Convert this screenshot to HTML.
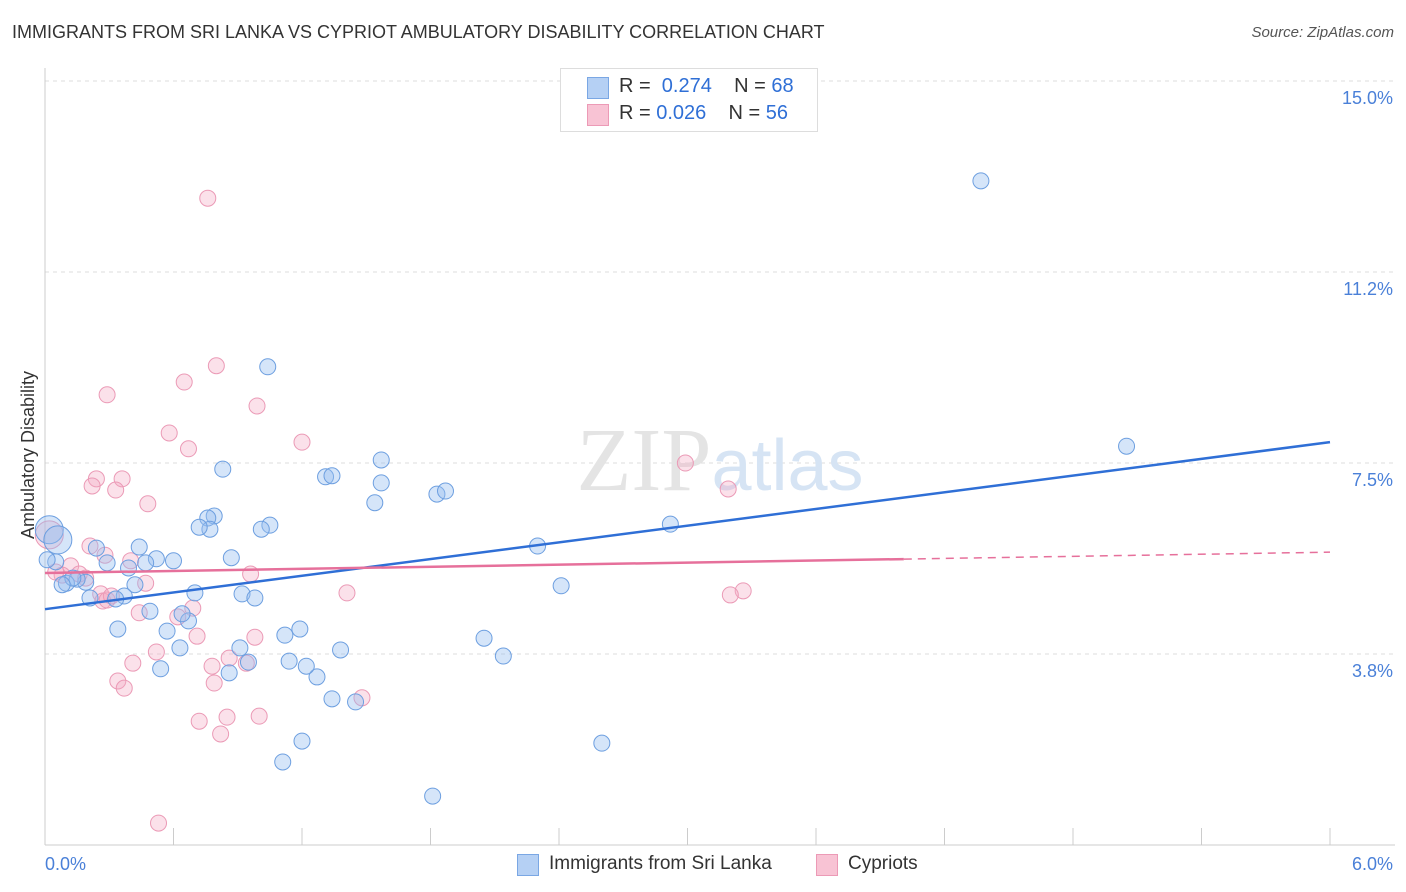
<!DOCTYPE html>
<html><head><meta charset="utf-8"><style>
body{margin:0;background:#fff;font-family:"Liberation Sans",sans-serif}
#wrap{position:relative;width:1406px;height:892px;overflow:hidden}
.t{position:absolute;white-space:nowrap}
</style></head><body>
<div id="wrap">
<div class="t" style="left:12px;top:22px;font-size:18px;color:#333">IMMIGRANTS FROM SRI LANKA VS CYPRIOT AMBULATORY DISABILITY CORRELATION CHART</div>
<div class="t" style="right:12px;top:24px;font-size:15px;color:#555;font-style:italic">Source: ZipAtlas.com</div>
<svg id="svg" width="1406" height="892" style="position:absolute;left:0;top:0"></svg>
</div>
<script>
const yTicks=[3.75,7.5,11.25,15];
const yTickLabels=["3.8%","7.5%","11.2%","15.0%"];
const xTickLabels=["0.0%","6.0%"];
const blueX=[4.37,5.05,1.04,0.83,1.31,1.34,1.57,1.57,1.54,1.83,1.87,2.92,2.30,2.41,2.05,2.14,2.60,1.81,1.20,1.11,1.34,1.45,1.38,1.27,1.22,1.14,1.19,1.12,1.05,1.01,0.95,0.91,0.86,0.87,0.92,0.98,0.79,0.76,0.77,0.72,0.70,0.67,0.64,0.63,0.57,0.54,0.49,0.60,0.52,0.47,0.44,0.39,0.42,0.34,0.37,0.33,0.29,0.24,0.21,0.19,0.15,0.10,0.13,0.08,0.05,0.02,0.06,0.01];
const blueY=[13.04,7.83,9.39,7.38,7.23,7.25,7.56,7.11,6.72,6.89,6.95,6.30,5.87,5.09,4.06,3.71,2.00,0.96,2.04,1.63,2.87,2.81,3.83,3.30,3.51,3.61,4.24,4.12,6.28,6.20,3.59,3.87,3.38,5.64,4.93,4.85,6.46,6.42,6.20,6.24,4.95,4.40,4.54,3.87,4.20,3.46,4.59,5.58,5.62,5.54,5.85,5.44,5.11,4.24,4.89,4.83,5.54,5.83,4.85,5.16,5.22,5.14,5.24,5.11,5.56,6.19,5.99,5.60];
const pinkX=[0.76,0.80,0.65,0.29,0.99,0.58,0.67,1.20,0.24,0.36,0.22,0.33,0.48,2.99,3.19,3.26,3.20,1.41,0.96,0.47,0.40,0.28,0.21,0.12,0.08,0.05,0.02,0.16,0.19,0.26,0.27,0.29,0.31,0.44,0.62,0.69,0.71,0.98,0.52,0.41,0.34,0.37,0.78,0.79,0.86,0.94,1.48,0.72,0.85,1.00,0.82,0.53];
const pinkY=[12.70,9.41,9.09,8.84,8.62,8.09,7.78,7.91,7.19,7.19,7.05,6.97,6.70,7.50,6.99,4.99,4.91,4.95,5.32,5.14,5.58,5.69,5.87,5.48,5.30,5.36,6.09,5.32,5.24,4.93,4.79,4.81,4.89,4.56,4.48,4.65,4.10,4.08,3.79,3.57,3.22,3.08,3.51,3.18,3.67,3.57,2.89,2.43,2.51,2.53,2.18,0.43];
const blueTrend=[4.63,7.91];
const pinkTrend=[5.34,5.75];
const X0=45,X1=1330,YB=845,PY=50.93;
const sx=v=>X0+v*(X1-X0)/6;
const sy=v=>YB-v*PY;
const svg=document.getElementById('svg');
const NS='http://www.w3.org/2000/svg';
function mk(tag,attrs){const e=document.createElementNS(NS,tag);for(const k in attrs)e.setAttribute(k,attrs[k]);svg.appendChild(e);return e;}
yTicks.forEach((v,i)=>{
 const g=mk('line',{x1:45,x2:1395,y1:sy(v),y2:sy(v),stroke:'#ddd','stroke-dasharray':'4,4'});
 
 
 const t=mk('text',{x:1393,y:sy(v)+23,'text-anchor':'end','font-size':18,fill:'#4a80d8'});
 t.textContent=yTickLabels[i];
 
 
});
let ax=mk('line',{x1:45,x2:1395,y1:845,y2:845,stroke:'#ccc'});


let ay=mk('line',{x1:45,x2:45,y1:68,y2:845,stroke:'#ccc'});


for(let i=1;i<=10;i++){const x=sx(i*0.6);const l=mk('line',{x1:x,x2:x,y1:828,y2:845,stroke:'#ccc'});

}
[[0,'start',45],[1,'end',1393]].forEach(([i,a,x])=>{const t=mk('text',{x:x,y:870,'text-anchor':a,'font-size':18,fill:'#4a80d8'});t.textContent=xTickLabels[i];

});
const yl=mk('text',{x:34,y:455,transform:'rotate(-90 34 455)','text-anchor':'middle','font-size':18,fill:'#333'});
yl.textContent='Ambulatory Disability';


const wm=mk('text',{x:720,y:490,'text-anchor':'middle','font-size':90,fill:'#e4e4e4','font-family':'Liberation Serif'});
wm.innerHTML='ZIP<tspan fill="#d6e4f4" font-family="Liberation Sans" font-size="72">atlas</tspan>';


pinkX.forEach((v,i)=>{const c=mk('circle',{cx:sx(v),cy:sy(pinkY[i]),r:i==26?14:8,fill:'rgba(244,170,195,0.35)',stroke:'#eb9ab6','stroke-width':1});

});
blueX.forEach((v,i)=>{const c=mk('circle',{cx:sx(v),cy:sy(blueY[i]),r:(i==65||i==66)?14:8,fill:'rgba(150,190,240,0.4)',stroke:'#6d9fe0','stroke-width':1});

});
const bl=mk('line',{x1:sx(0),y1:sy(blueTrend[0]),x2:sx(6),y2:sy(blueTrend[1]),stroke:'#2f6fd6','stroke-width':2.5});


const pm=pinkTrend[0]+(pinkTrend[1]-pinkTrend[0])*4.01/6;
const pl=mk('line',{x1:sx(0),y1:sy(pinkTrend[0]),x2:sx(4.01),y2:sy(pm),stroke:'#e6709b','stroke-width':2.5});


const pd=mk('line',{x1:sx(4.01),y1:sy(pm),x2:sx(6),y2:sy(pinkTrend[1]),stroke:'#e6709b','stroke-width':1.5,'stroke-dasharray':'8,6'});


</script>
<div class="t" style="left:560px;top:68px;width:256px;height:62px;border:1px solid #ddd;background:#fff">
 <div class="t" style="left:26px;top:8px;width:20px;height:20px;background:#b5d0f4;border:1px solid #7aa7e4"></div>
 <div class="t" style="left:58px;top:6px;font-size:20px;color:#333">R = <span style="color:#2f6fd6">&nbsp;0.274</span>&nbsp;&nbsp;&nbsp; N = <span style="color:#2f6fd6">68</span></div>
 <div class="t" style="left:26px;top:35px;width:20px;height:20px;background:#f8c3d4;border:1px solid #ec9ab6"></div>
 <div class="t" style="left:58px;top:33px;font-size:20px;color:#333">R = <span style="color:#2f6fd6">0.026</span>&nbsp;&nbsp;&nbsp; N = <span style="color:#2f6fd6">56</span></div>
</div>
<div class="t" style="left:517px;top:854px;width:20px;height:20px;background:#b5d0f4;border:1px solid #7aa7e4"></div>
<div class="t" style="left:549px;top:853px;font-size:19px;color:#333">Immigrants from Sri Lanka</div>
<div class="t" style="left:816px;top:854px;width:20px;height:20px;background:#f8c3d4;border:1px solid #ec9ab6"></div>
<div class="t" style="left:848px;top:853px;font-size:19px;color:#333">Cypriots</div>
</body></html>
